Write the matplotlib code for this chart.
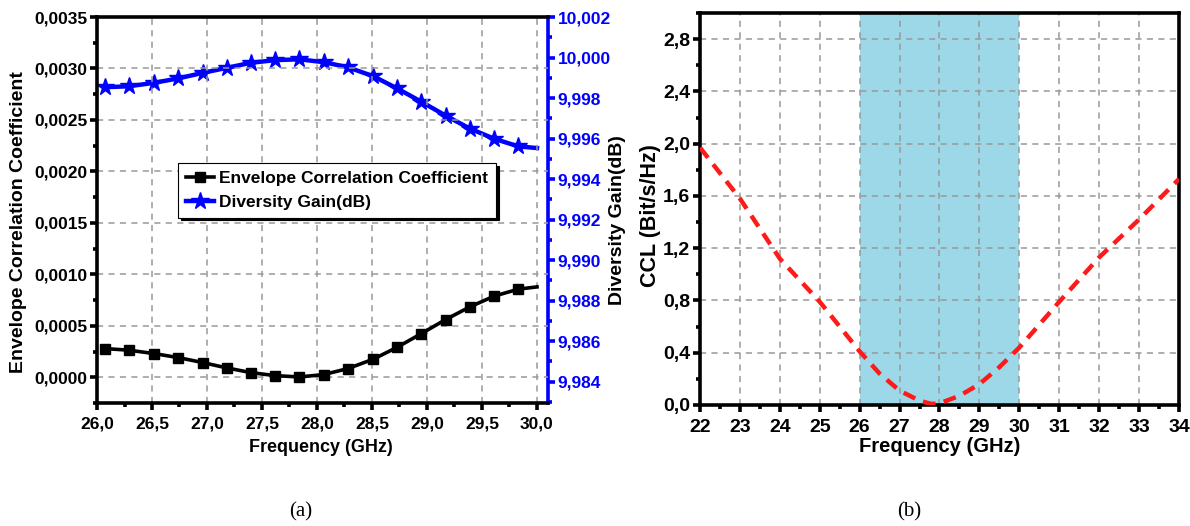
import matplotlib
matplotlib.use("Agg")
import matplotlib.pyplot as plt
from matplotlib.ticker import MultipleLocator, FuncFormatter

plt.rcParams['font.family'] = ['Liberation Sans', 'DejaVu Sans']
plt.rcParams['font.weight'] = 'bold'

# ---------------- data (a) ----------------
freq_a = [26.07, 26.29, 26.52, 26.74, 26.96, 27.18, 27.40, 27.62, 27.84, 28.06,
          28.28, 28.51, 28.73, 28.95, 29.17, 29.39, 29.61, 29.83, 30.0]
ecc = [0.000279, 0.000263, 0.000230, 0.000191, 0.000143, 0.000091, 0.000045,
       0.000016, 0.000003, 0.000026, 0.000084, 0.000175, 0.000292, 0.000425,
       0.000561, 0.000684, 0.000788, 0.000856, 0.000878]
dg = [9.99853, 9.99858, 9.99875, 9.99897, 9.99924, 9.99949, 9.99974, 9.99987,
      9.99991, 9.99977, 9.99952, 9.99908, 9.99847, 9.99781, 9.99713, 9.99649,
      9.99599, 9.99561, 9.99553]

# ---------------- data (b) ----------------
freq_b = [22.0, 23.0, 24.0, 25.0, 26.0, 26.5, 27.0, 27.5, 27.8, 28.0, 28.5,
          29.0, 29.5, 30.0, 31.0, 32.0, 33.0, 34.0]
ccl = [1.97, 1.58, 1.12, 0.79, 0.41, 0.24, 0.11, 0.033, 0.008, 0.013, 0.07,
       0.16, 0.29, 0.44, 0.79, 1.13, 1.42, 1.73]

band = (26.0, 30.0)

W, H = 1190, 526
fig = plt.figure(figsize=(W / 100, H / 100), dpi=100)

def comma(dec):
    return FuncFormatter(lambda v, p: f"{v:.{dec}f}".replace('.', ','))

grid_kw = dict(color='#999999', linestyle=(0, (4, 3.5)), linewidth=1.1)

def style_ticks(ax, size, color='black', which_axis='both', pad=2):
    ax.tick_params(axis=which_axis, which='major', direction='out', length=5,
                   width=2.6, labelsize=size, colors=color, pad=pad)
    ax.tick_params(axis=which_axis, which='minor', direction='out', length=3,
                   width=2.6, colors=color)

# ---------------- panel (a) ----------------
ax = fig.add_axes([97 / W, (H - 403) / H, (548 - 97) / W, (403 - 17) / H])
ax2 = ax.twinx()

l1, = ax.plot(freq_a, ecc, color='black', lw=2.6, marker='s', ms=7.5,
              markevery=list(range(len(freq_a) - 1)), label='Envelope Correlation Coefficient')
l2, = ax2.plot(freq_a, dg, color='#0000ff', lw=3.2, marker='*', ms=13,
               markevery=list(range(len(freq_a) - 1)), label='Diversity Gain(dB)')

ax.set_xlim(26.0, 30.1)
ax.set_ylim(-0.00025, 0.0035)
ax2.set_ylim(9.98294, 10.002)

ax.xaxis.set_major_locator(MultipleLocator(0.5))
ax.xaxis.set_minor_locator(MultipleLocator(0.25))
ax.yaxis.set_major_locator(MultipleLocator(0.0005))
ax.yaxis.set_minor_locator(MultipleLocator(0.00025))
ax2.yaxis.set_major_locator(MultipleLocator(0.002))
ax2.yaxis.set_minor_locator(MultipleLocator(0.001))
ax.xaxis.set_major_formatter(comma(1))
ax.yaxis.set_major_formatter(comma(4))
ax2.yaxis.set_major_formatter(comma(3))

ax.grid(True, which='major', **grid_kw)
style_ticks(ax, 12.5, which_axis='y')
style_ticks(ax, 12.5, which_axis='x', pad=5)
style_ticks(ax2, 12.5, color='#0000ff', which_axis='y')
for lab in ax.get_xticklabels() + ax.get_yticklabels() + ax2.get_yticklabels():
    lab.set_fontweight('bold')

for s in ['left', 'bottom', 'top']:
    ax.spines[s].set_linewidth(2.6)
ax.spines['right'].set_visible(False)
for s in ['left', 'bottom', 'top']:
    ax2.spines[s].set_visible(False)
ax2.spines['right'].set_linewidth(2.6)
ax2.spines['right'].set_color('#0000ff')

ax.set_xlabel('Frequency (GHz)', fontsize=13, fontweight='bold', va='center')
ax.xaxis.set_label_coords(0.497, -0.114)
ax.set_ylabel('Envelope Correlation Coefficient', fontsize=14, fontweight='bold',
              va='center')
ax.yaxis.set_label_coords(-0.175, 0.47)
ax2.set_ylabel('Diversity Gain(dB)', fontsize=14, fontweight='bold', color='black',
               va='center')
ax2.yaxis.set_label_coords(1.153, 0.474)

leg = ax.legend(handles=[l1, l2], loc='upper left', bbox_to_anchor=(0.18, 0.622),
                borderaxespad=0, fancybox=False, framealpha=1,
                shadow={'color': 'black', 'alpha': 1},
                prop={'size': 12.5, 'weight': 'bold'}, handlelength=1.6,
                handletextpad=0.3, borderpad=0.45, labelspacing=0.5)
leg.get_frame().set_edgecolor('black')
leg.get_frame().set_linewidth(0.8)
ax.set_zorder(ax2.get_zorder() + 1)
ax.patch.set_visible(False)

# ---------------- panel (b) ----------------
bx = fig.add_axes([700 / W, (H - 405) / H, (1179 - 700) / W, (405 - 13) / H])
bx.axvspan(band[0], band[1], color='#9dd8e8', lw=0, zorder=0.5)
bx.plot(freq_b, ccl, color='#ff1a1a', lw=3.2, linestyle=(0, (2.9, 1.9)), zorder=3)
bx.set_xlim(22, 34)
bx.set_ylim(0, 3.0)
bx.xaxis.set_major_locator(MultipleLocator(1))
bx.xaxis.set_minor_locator(MultipleLocator(0.5))
bx.yaxis.set_major_locator(MultipleLocator(0.4))
bx.yaxis.set_minor_locator(MultipleLocator(0.2))
bx.yaxis.set_major_formatter(comma(1))
bx.xaxis.set_major_formatter(FuncFormatter(lambda v, p: f"{v:.0f}"))
bx.grid(True, which='major', zorder=1, **grid_kw)
style_ticks(bx, 14, which_axis='y')
style_ticks(bx, 14, which_axis='x', pad=5)
bx.set_yticks([0.0, 0.4, 0.8, 1.2, 1.6, 2.0, 2.4, 2.8])
for lab in bx.get_xticklabels() + bx.get_yticklabels():
    lab.set_fontweight('bold')
for s in bx.spines.values():
    s.set_linewidth(2.6)
bx.set_xlabel('Frequency (GHz)', fontsize=14.5, fontweight='bold', va='center')
bx.xaxis.set_label_coords(0.5, -0.107)
bx.set_ylabel('CCL (Bit/s/Hz)', fontsize=15.5, fontweight='bold', va='center')
bx.yaxis.set_label_coords(-0.104, 0.482)

# captions
fig.text(301 / W, 1 - 512 / H, '(a)', family='Liberation Serif', fontweight='normal',
         fontsize=15, ha='center', va='center')
fig.text(909 / W, 1 - 512 / H, '(b)', family='Liberation Serif', fontweight='normal',
         fontsize=15, ha='center', va='center')

fig.savefig('out.png', dpi=100)
